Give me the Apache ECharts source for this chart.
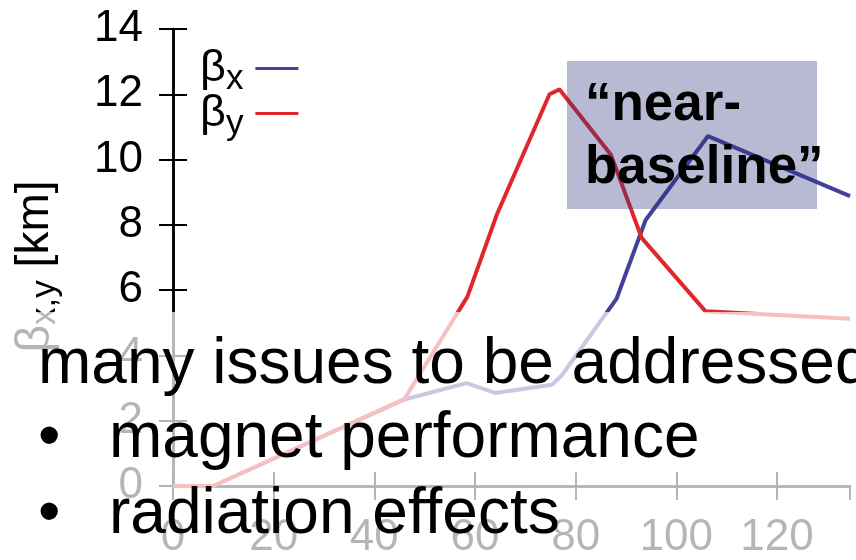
<!DOCTYPE html>
<html>
<head>
<meta charset="utf-8">
<script src="https://cdn.jsdelivr.net/npm/echarts@6/dist/echarts.min.js"></script>
<style>
html,body{margin:0;padding:0;background:#fff;}
#chart{width:856px;height:560px;}
</style>
</head>
<body>
<div id="chart"></div>
<script>
// ---- data ----
var seriesNames = ['βx', 'βy'];
var betaXpos = [0, 8, 46, 58.3, 64, 75.3, 77.3, 88.1, 93.9, 106.3, 134.5];
var betaXval = [0, 0, 2.65, 3.15, 2.85, 3.1, 3.4, 5.73, 8.15, 10.72, 8.88];
var betaYpos = [0, 8, 46, 58.5, 64.3, 74.8, 76.8, 87, 93.1, 105.8, 134.5];
var betaYval = [0, 0, 2.67, 5.8, 8.3, 12.0, 12.15, 10.15, 7.6, 5.35, 5.12];
var xTicks = [0, 20, 40, 60, 80, 100, 120];
var yTicks = [0, 2, 4, 6, 8, 10, 12, 14];
var boxLines = ['\u201Cnear-', 'baseline\u201D'];
var slideLines = ['many issues to be addressed', 'magnet performance', 'radiation effects'];

var FONT = "'Liberation Sans', Arial, Helvetica, sans-serif";
var BLUE = '#42429a';
var RED = '#e0282c';

function pairs(xs, ys) {
  var out = [];
  for (var i = 0; i < xs.length; i++) out.push([xs[i], ys[i]]);
  return out;
}

var chart = echarts.init(document.getElementById('chart'), null, {renderer: 'canvas'});

var axisCommon = {
  axisLine: {show: true, lineStyle: {color: '#000', width: 2.5}},
  axisTick: {show: true, inside: true, length: 14, lineStyle: {color: '#000', width: 2}},
  splitLine: {show: false}
};

var option = {
  animation: false,
  backgroundColor: '#fff',
  grid: {left: 173, right: 6, top: 29, bottom: 69, containLabel: false},
  legend: {
    orient: 'vertical',
    left: 200,
    top: 40,
    padding: 0,
    align: 'right',
    icon: 'rect',
    itemWidth: 43,
    itemHeight: 3,
    itemGap: -12,
    data: seriesNames,
    formatter: function (name) { return '{b|β}{s|' + name.slice(1) + '}{g|}'; },
    textStyle: {
      fontFamily: FONT,
      color: '#000',
      rich: {
        b: {fontSize: 45, lineHeight: 40, fontFamily: FONT, color: '#000'},
        s: {fontSize: 35, lineHeight: 18, fontFamily: FONT, color: '#000', padding: [22, 0, 0, 0]},
        g: {width: 7, lineHeight: 40}
      }
    }
  },
  xAxis: [
    Object.assign({}, axisCommon, {
      type: 'value', position: 'bottom', min: 0, max: 134.5, interval: 20,
      axisLabel: {show: true, margin: 30, fontSize: 44, fontFamily: FONT, color: '#000', showMaxLabel: false}
    }),
    Object.assign({}, axisCommon, {
      type: 'value', position: 'top', min: 0, max: 134.5, interval: 20,
      axisLabel: {show: false}
    })
  ],
  yAxis: [
    Object.assign({}, axisCommon, {
      type: 'value', position: 'left', min: 0, max: 14, interval: 2,
      axisLabel: {show: true, margin: 30, fontSize: 44, fontFamily: FONT, color: '#000'},
      name: '{b|β}{s|x,y}{n| [km]}',
      nameLocation: 'middle',
      nameGap: 110,
      nameTextStyle: {
        fontFamily: FONT, color: '#000',
        rich: {
          b: {fontSize: 48, fontFamily: FONT, color: '#000'},
          s: {fontSize: 35, fontFamily: FONT, color: '#000', padding: [20, 0, 0, 0]},
          n: {fontSize: 46, fontFamily: FONT, color: '#000', padding: [0, 18, 0, 0]}
        }
      }
    }),
    Object.assign({}, axisCommon, {
      type: 'value', position: 'right', min: 0, max: 14, interval: 2,
      axisLabel: {show: false}
    })
  ],
  series: [
    {
      name: seriesNames[0], type: 'line', xAxisIndex: 0, yAxisIndex: 0,
      data: pairs(betaXpos, betaXval), showSymbol: false, symbol: 'none',
      lineStyle: {color: BLUE, width: 4}, itemStyle: {color: BLUE}, z: 2
    },
    {
      name: seriesNames[1], type: 'line', xAxisIndex: 0, yAxisIndex: 0,
      data: pairs(betaYpos, betaYval), showSymbol: false, symbol: 'none',
      lineStyle: {color: RED, width: 4}, itemStyle: {color: RED}, z: 3
    }
  ],
  graphic: [
    {type: 'rect', z: 100, shape: {x: 567, y: 61, width: 250, height: 148},
     style: {fill: 'rgba(40,45,120,0.33)'}},
    {type: 'text', z: 101, x: 585, y: 105,
     style: {text: boxLines[0], font: 'bold 53px ' + FONT, fill: '#000', verticalAlign: 'middle', align: 'left'}},
    {type: 'text', z: 101, x: 585, y: 168,
     style: {text: boxLines[1], font: 'bold 53px ' + FONT, fill: '#000', verticalAlign: 'middle', align: 'left'}},
    {type: 'rect', z: 110, shape: {x: 0, y: 312, width: 856, height: 248},
     style: {fill: 'rgba(255,255,255,0.71)'}},
    {type: 'text', z: 111, x: 38, y: 365,
     style: {text: slideLines[0], font: '64px ' + FONT, fill: '#000', verticalAlign: 'middle', align: 'left'}},
    {type: 'text', z: 111, x: 38, y: 439,
     style: {text: '\u2022', font: '64px ' + FONT, fill: '#000', verticalAlign: 'middle', align: 'left'}},
    {type: 'text', z: 111, x: 109, y: 439,
     style: {text: slideLines[1], font: '64px ' + FONT, fill: '#000', verticalAlign: 'middle', align: 'left'}},
    {type: 'text', z: 111, x: 38, y: 515,
     style: {text: '\u2022', font: '64px ' + FONT, fill: '#000', verticalAlign: 'middle', align: 'left'}},
    {type: 'text', z: 111, x: 109, y: 515,
     style: {text: slideLines[2], font: '64px ' + FONT, fill: '#000', verticalAlign: 'middle', align: 'left'}}
  ]
};
chart.setOption(option);
</script>
</body>
</html>
